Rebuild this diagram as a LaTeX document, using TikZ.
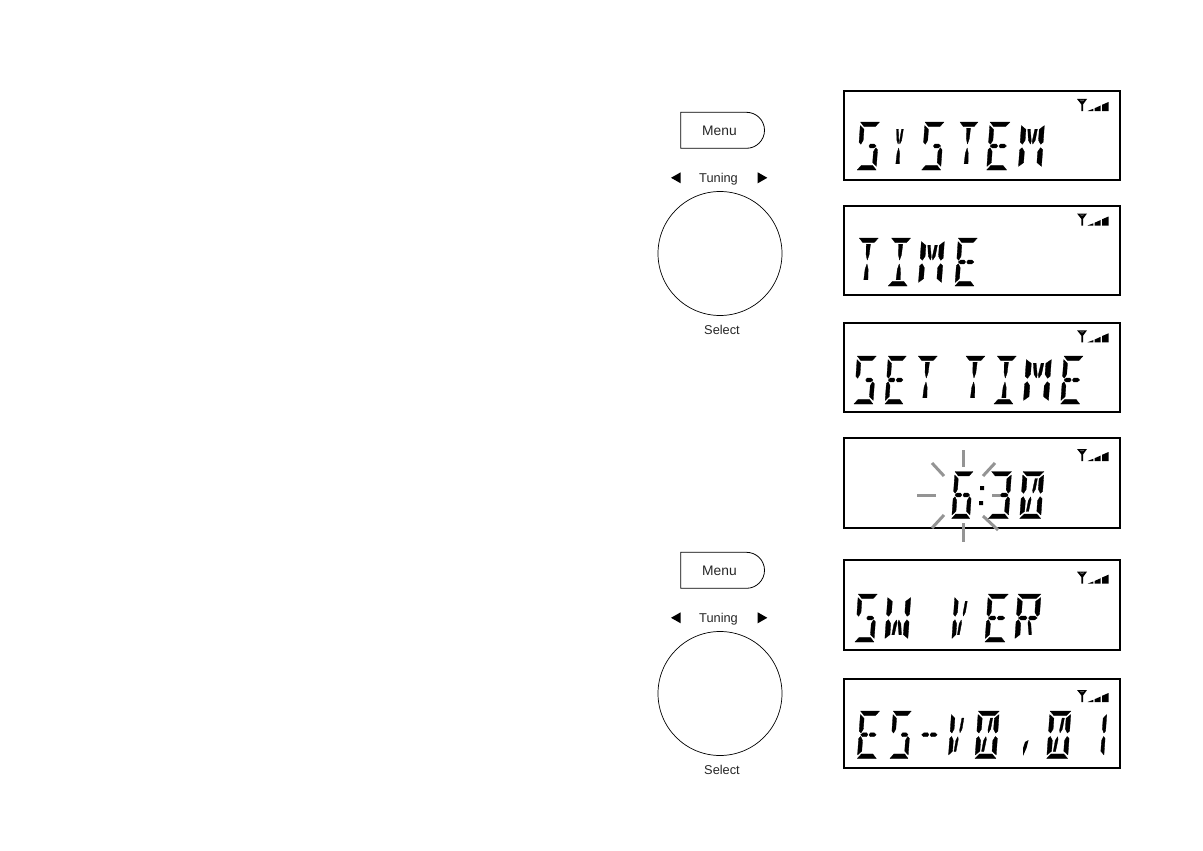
\documentclass[tikz,border=0pt]{standalone}
\usepackage{fontspec}
\setmainfont{Liberation Sans}
\tikzset{
  lcdbox/.style={draw=black,line width=2pt,fill=white,rectangle,inner sep=0pt,minimum width=276pt,minimum height=89.5pt,text opacity=0,font=\fontsize{30}{32}\selectfont},
  dial/.style={draw=black,line width=0.7pt,circle,inner sep=0pt,minimum size=124pt},
  lbl/.style={inner sep=0pt,font=\fontsize{12.8}{14}\selectfont,text=black!85},
  menulbl/.style={inner sep=0pt,font=\fontsize{13.8}{15}\selectfont,text=black!85},
  ray/.style={draw=black!42,line width=3pt},
}
% one LCD cell is 10 wide and 20 high, y running down
\newcommand\lcdsegtop{\fill (0,0)--(10,0)--(8,1.9)--(2,1.9)--cycle;}
\newcommand\lcdsegbot{\fill (0,20)--(10,20)--(8,18.1)--(2,18.1)--cycle;}
\newcommand\lcdsegul{\fill (0,1.5)--(2.1,3.1)--(2.1,7.6)--(1,9.3)--(0,8.4)--cycle;}
\newcommand\lcdsegur{\fill (10,1.5)--(7.9,3.1)--(7.9,7.6)--(9,9.3)--(10,8.4)--cycle;}
\newcommand\lcdsegll{\fill (0,11.6)--(1,10.7)--(2.1,12.4)--(2.1,16.9)--(0,18.5)--cycle;}
\newcommand\lcdseglr{\fill (10,11.6)--(9,10.7)--(7.9,12.4)--(7.9,16.9)--(10,18.5)--cycle;}
\newcommand\lcdsegml{\fill (0.9,10)--(2,9.2)--(4,9.2)--(4.7,10)--(4,10.8)--(2,10.8)--cycle;}
\newcommand\lcdsegmr{\fill (5.3,10)--(6,9.2)--(8,9.2)--(9.1,10)--(8,10.8)--(6,10.8)--cycle;}
\newcommand\lcdsegcu{\fill (3.9,2.6)--(6.1,2.6)--(5.8,7)--(5,9.2)--(4.2,7)--cycle;}
\newcommand\lcdsegcd{\fill (5,10.8)--(5.8,13)--(6.1,17.4)--(3.9,17.4)--(4.2,13)--cycle;}
\newcommand\lcdsegda{\fill (2.9,3)--(4,3)--(4.8,8)--(4.5,9.2)--(3.5,7.6)--cycle;}
\newcommand\lcdsegdb{\fill (7.1,3)--(6,3)--(5.2,8)--(5.5,9.2)--(6.5,7.6)--cycle;}
\newcommand\lcdsegdc{\fill (2.9,17)--(4,17)--(4.8,12)--(4.5,10.8)--(3.5,12.4)--cycle;}
\newcommand\lcdsegdd{\fill (7.1,17)--(6,17)--(5.2,12)--(5.5,10.8)--(6.5,12.4)--cycle;}
\newcommand\glyS{top,ul,mr,lr,bot}
\newcommand\glyY{da,db,cd}
\newcommand\glyT{top,cu,cd}
\newcommand\glyE{top,ul,ml,mr,ll,bot}
\newcommand\glyM{ul,ur,da,db,ll,lr}
\newcommand\glyI{top,cu,cd,bot}
\newcommand\glyW{ul,ur,ll,lr,dc,dd}
\newcommand\glyV{ul,ll,db,dc}
\newcommand\glyR{top,ul,ur,ml,mr,ll,dd}
\newcommand\glyO{top,bot,ul,ur,ll,lr,db,dc}
\newcommand\glyN{ur,lr}
\newcommand\glyH{ml,mr}
\newcommand\glyF{top,ul,ml,mr,ll,lr,bot}
\newcommand\glyD{top,ur,mr,lr,bot}
\newcommand\lcd[5]{\begin{scope}[shift={(#1,#2)},xslant=0.07,xscale=#3/10,yscale=#4/20,every path/.style={draw=black,line width=0.3pt,line join=round}]
  \foreach \s in #5 {\csname lcdseg\s\endcsname}\end{scope}}
% antenna and signal bars
\newcommand\signal[2]{\begin{scope}[shift={(#1,#2)}]
  \fill (0,0)--(10,0)--(6,5.5)--(6,12)--(4.4,12)--(4.4,5.5)--cycle;
  \fill[white] (3.4,1)--(4.4,1)--(4.4,2.4)--cycle (6.6,1)--(5.6,1)--(5.6,2.4)--cycle;
  \fill (10.5,12)--(16.3,12)--(16.3,9.8)--cycle;
  \fill (17.5,12)--(23.7,12)--(23.7,6.5)--(17.5,9.3)--cycle;
  \fill (25,12)--(31.5,12)--(31.5,3)--(25,5.8)--cycle;
\end{scope}}
% Menu button, tuning arrows and dial; #1 is the vertical offset, #2 the name suffix
\newcommand\controls[2]{\begin{scope}[yshift=-#1pt]
  \draw[line width=0.8pt] (680.7,112.3)--(746.5,112.3) arc[start angle=-90,end angle=90,radius=18]--(680.7,148.3)--cycle;
  \node[menulbl] (menu#2) at (719.5,131) {Menu};
  \fill (680.7,172.3)--(680.7,183.3)--(671,177.8)--cycle;
  \fill (757.7,172.3)--(757.7,183.3)--(767.3,177.8)--cycle;
  \node[lbl] (tuning#2) at (718.5,179) {Tuning};
  \node[dial] (dial#2) at (720,253.5) {};
  \node[lbl] (select#2) at (722,329.5) {Select};
\end{scope}}
\begin{document}
\begin{tikzpicture}[x=1pt,y=-1pt]
\useasboundingbox[fill=white] (0,0) rectangle (1203,851);
\controls{0}{A}
\controls{440}{B}
% boxes, each carrying the text of its display
\node[lcdbox] (sys) at (981.7,135.7) {SYSTEM};
\node[lcdbox] (tim) at (981.7,250.4) {TIME};
\node[lcdbox] (set) at (981.7,367.5) {SET TIME};
\node[lcdbox] (clk) at (981.7,483) {6:30};
\node[lcdbox] (swv) at (981.7,605) {SW V'ER};
\node[lcdbox] (ver) at (981.7,723.5) {ES-V0,01};
\signal{1077}{99}\signal{1077}{213.5}\signal{1077}{330.3}\signal{1077}{449}\signal{1077}{571.7}\signal{1077}{690}
% SYSTEM
\lcd{860.5}{122}{19}{48}\glyS \lcd{892.5}{122}{16}{48}\glyY \lcd{925}{122}{19}{48}\glyS
\lcd{960}{122}{18}{48}\glyT \lcd{990}{122}{20}{48}\glyE \lcd{1021.6}{122}{23}{48}\glyM
% TIME
\lcd{859.3}{238}{19}{48}\glyT \lcd{891.6}{238}{19}{48}\glyI \lcd{921.6}{238}{23}{48}\glyM \lcd{958.3}{238}{19}{48}\glyE
% SET TIME
\lcd{857.3}{356}{19}{48}\glyS \lcd{888.3}{356}{18}{48}\glyE \lcd{918.3}{356}{19}{48}\glyT
\lcd{966}{356}{19}{48}\glyT \lcd{997.3}{356}{19}{48}\glyI \lcd{1026.6}{356}{25}{48}\glyM \lcd{1064}{356}{19}{48}\glyE
% clock with flashing rays
\foreach \a/\b/\c/\d in {963/450/963/467,963/523/963/541.7,917/495/936/495,992/495/1008/495,932/463/944/476,995/463/983/476,932/528/944/515,998/530/983/516}
  {\draw[ray] (\a,\b)--(\c,\d);}
\lcd{955}{471.5}{18}{47}\glyF \lcd{991.6}{471.5}{20}{47}\glyD \lcd{1023}{471.5}{21}{47}\glyO
\fill (980,486)rectangle(984,490) (979,501)rectangle(983,505);
% SW V'ER
\lcd{858.3}{594}{19}{48}\glyS \lcd{888}{594}{23}{48}\glyW \lcd{955}{594}{18}{48}\glyV \lcd{988.3}{594}{20}{48}\glyE \lcd{1018}{594}{23}{48}\glyR
% ES-V0,01
\lcd{860.6}{711}{19}{47.5}\glyE \lcd{893.3}{711}{18}{47.5}\glyS \lcd{921.6}{711}{19}{47.5}\glyH
\lcd{951.6}{711}{18}{47.5}\glyV \lcd{978.3}{711}{21}{47.5}\glyO
\fill (1028.5,740)--(1026.5,748)--(1023,756)--(1023,748)--(1025,742)--cycle;
\lcd{1050}{711}{21}{47.5}\glyO \lcd{1091}{711}{16}{47.5}\glyN
\end{tikzpicture}
\end{document}
